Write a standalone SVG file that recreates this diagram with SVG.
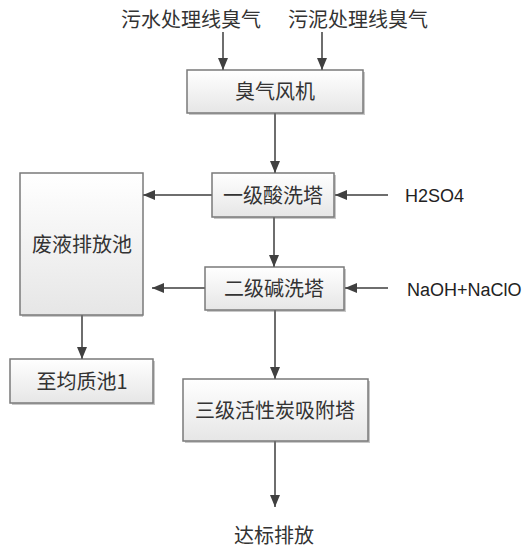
<svg xmlns="http://www.w3.org/2000/svg" width="526" height="549" viewBox="0 0 526 549">
<style>
.box{fill:url(#g);stroke:#7a7a7a;stroke-width:1.5}
.sh{fill:#c8c8c8}
.t{font-family:"Noto Sans CJK SC","Liberation Sans",sans-serif;font-size:20px;fill:#333;text-anchor:middle}
.e{font-family:"Liberation Sans","Noto Sans",sans-serif;font-size:18px;fill:#222}
.c{stroke:#6e6e6e;stroke-width:2;fill:none;marker-end:url(#a)}
</style>
<defs>
<linearGradient id="g" x1="0" y1="0" x2="0" y2="1">
<stop offset="0" stop-color="#ffffff"/>
<stop offset="1" stop-color="#e6e6e6"/>
</linearGradient>
<marker id="a" viewBox="0 0 12 10" refX="12" refY="5" markerWidth="12" markerHeight="10" markerUnits="userSpaceOnUse" orient="auto">
<path d="M0,0 L12,5 L0,10 Z" fill="#404040"/>
</marker>
</defs>
<g id="src1"><text class="t" x="191" y="27">污水处理线臭气</text></g>
<g id="src2"><text class="t" x="358" y="27">污泥处理线臭气</text></g>
<g id="n1"><rect class="sh" x="189" y="72" width="176" height="43"/><rect class="box" x="187" y="70" width="176" height="43"/><text class="t" x="275" y="99">臭气风机</text></g>
<g id="n2"><rect class="sh" x="214" y="175" width="122" height="44"/><rect class="box" x="212" y="173" width="122" height="44"/><text class="t" x="273" y="203">一级酸洗塔</text></g>
<g id="n3"><rect class="sh" x="22" y="175" width="121" height="142"/><rect class="box" x="20" y="173" width="123" height="142"/><text class="t" x="82" y="252">废液排放池</text></g>
<g id="n4"><rect class="sh" x="207" y="269" width="139" height="43"/><rect class="box" x="205" y="267" width="139" height="43"/><text class="t" x="274" y="296">二级碱洗塔</text></g>
<g id="n5"><rect class="sh" x="12" y="361" width="143" height="44"/><rect class="box" x="10" y="359" width="143" height="44"/><text class="t" x="82" y="389">至均质池1</text></g>
<g id="n6"><rect class="sh" x="185" y="381" width="185" height="62"/><rect class="box" x="183" y="379" width="185" height="62"/><text class="t" x="275" y="418">三级活性炭吸附塔</text></g>
<g id="h2so4"><text class="e" x="405" y="202">H2SO4</text></g>
<g id="naoh"><text class="e" x="407" y="296">NaOH+NaClO</text></g>
<g id="out"><text class="t" x="274" y="543">达标排放</text></g>
<g id="connectors">
<line class="c" x1="223" y1="32" x2="223" y2="70"/>
<line class="c" x1="322" y1="32" x2="322" y2="70"/>
<line class="c" x1="275" y1="113" x2="275" y2="173"/>
<line class="c" x1="212" y1="195" x2="143" y2="195"/>
<line class="c" x1="388" y1="195" x2="335" y2="195"/>
<line class="c" x1="274" y1="217" x2="274" y2="267"/>
<line class="c" x1="205" y1="288" x2="152" y2="288"/>
<line class="c" x1="388" y1="288" x2="345" y2="288"/>
<line class="c" x1="275" y1="310" x2="275" y2="379"/>
<line class="c" x1="82" y1="315" x2="82" y2="359"/>
<line class="c" x1="275" y1="441" x2="275" y2="507"/>
</g>
</svg>
